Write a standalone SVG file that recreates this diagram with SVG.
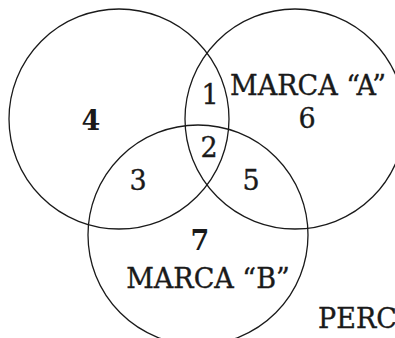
<svg xmlns="http://www.w3.org/2000/svg" width="395" height="338" viewBox="0 0 395 338">
<style>
.c{fill:none;stroke:#1a1a1a;stroke-width:1.3}
text{font-family:"DejaVu Serif","Liberation Serif",serif;font-size:27px;fill:#1a1a1a;stroke:#1a1a1a;stroke-width:0.35;text-anchor:middle}
.b{font-weight:bold;stroke-width:0}
</style>
<rect width="395" height="338" fill="#fff"/>
<g id="circleLeft"><circle class="c" cx="119" cy="119" r="110"/></g>
<g id="circleA"><circle class="c" cx="295" cy="119" r="110"/></g>
<g id="circleB"><circle class="c" cx="198" cy="235" r="110"/></g>
<g id="labels">
<text class="b" x="91" y="130">4</text>
<text x="210" y="104">1</text>
<text x="209" y="157">2</text>
<text x="138" y="190">3</text>
<text x="251" y="190">5</text>
<text x="308" y="95">MARCA “A”</text>
<text x="307" y="128">6</text>
<text class="b" x="200" y="250">7</text>
<text x="208" y="288">MARCA “B”</text>
<text x="318" y="328" style="text-anchor:start">PERC</text>
</g>
</svg>
